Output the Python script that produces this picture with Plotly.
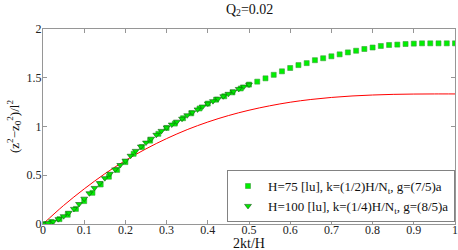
import plotly.graph_objects as go

# H=75 series (squares), x step 0.02
x_sq = [round(i * 0.02, 4) for i in range(51)]
y_sq = [0, 0.02, 0.05, 0.095, 0.155, 0.235, 0.32, 0.405, 0.485, 0.555,
        0.635, 0.72, 0.79, 0.855, 0.925, 0.985, 1.03, 1.085, 1.135, 1.185,
        1.235, 1.275, 1.31, 1.35, 1.39, 1.43, 1.46, 1.494, 1.53, 1.566,
        1.60, 1.63, 1.65, 1.68, 1.70, 1.72, 1.74, 1.76, 1.777, 1.795,
        1.81, 1.826, 1.836, 1.84, 1.846, 1.85, 1.853, 1.853, 1.853, 1.853, 1.853]

# H=100 series (triangles), x step 0.0125
x_tri = [round(i * 0.0125, 4) for i in range(41)]
y_tri = [0, 0.01, 0.025, 0.05, 0.08, 0.115, 0.155, 0.205, 0.26, 0.315,
         0.37, 0.42, 0.47, 0.515, 0.56, 0.605, 0.65, 0.70, 0.75, 0.795,
         0.835, 0.875, 0.915, 0.955, 0.99, 1.02, 1.05, 1.08, 1.115, 1.145,
         1.175, 1.205, 1.235, 1.26, 1.285, 1.31, 1.335, 1.36, 1.385, 1.41, 1.43]

# theory curve (red)
x_th = [0, 0.05, 0.1, 0.15, 0.2, 0.25, 0.3, 0.35, 0.4, 0.45, 0.5,
        0.55, 0.6, 0.65, 0.7, 0.75, 0.8, 0.85, 0.9, 0.95, 1.0]
y_th = [0, 0.19, 0.36, 0.515, 0.651, 0.771, 0.876, 0.968, 1.046, 1.112, 1.167,
        1.212, 1.249, 1.277, 1.298, 1.313, 1.323, 1.3295, 1.3327, 1.334, 1.334]

x_ticks = [0, 0.1, 0.2, 0.3, 0.4, 0.5, 0.6, 0.7, 0.8, 0.9, 1]
x_tick_text = ["0", "0.1", "0.2", "0.3", "0.4", "0.5", "0.6", "0.7", "0.8", "0.9", "1"]
y_ticks = [0, 0.5, 1, 1.5, 2]
y_tick_text = ["0", "0.5", "1", "1.5", "2"]

FONT = "Liberation Serif"

fig = go.Figure()
fig.add_trace(go.Scatter(x=x_th, y=y_th, mode="lines", line=dict(color="rgb(255,0,0)", width=1, shape="spline"),
                         showlegend=False, hoverinfo="skip"))
fig.add_trace(go.Scatter(x=x_sq, y=y_sq, mode="markers",
                         marker=dict(symbol="square", size=5, color="rgb(0,240,0)",
                                     line=dict(color="rgb(60,160,60)", width=0.6)),
                         name="H=75 [lu], k=(1/2)H/N<sub>t</sub>, g=(7/5)a"))
fig.add_trace(go.Scatter(x=x_tri, y=y_tri, mode="markers",
                         marker=dict(symbol="triangle-down", size=6, color="rgb(0,230,0)",
                                     line=dict(color="rgb(20,90,20)", width=0.6)),
                         name="H=100 [lu], k=(1/4)H/N<sub>t</sub>, g=(8/5)a"))

axis_common = dict(showgrid=False, zeroline=False, showline=True, linecolor="rgb(150,150,150)",
                   linewidth=1, mirror="ticks", ticks="inside", ticklen=4,
                   tickcolor="rgb(150,150,150)", tickfont=dict(family=FONT, size=12, color="#222"))

fig.update_layout(
    width=458, height=250,
    margin=dict(l=43, r=3, t=29, b=26, autoexpand=False),
    paper_bgcolor="white", plot_bgcolor="white",
    title=dict(text="Q<sub>2</sub>=0.02", x=0.545, xanchor="center", y=0.985, yanchor="top",
               font=dict(family=FONT, size=14, color="#111")),
    xaxis=dict(range=[0, 1], tickvals=x_ticks, ticktext=x_tick_text, automargin=False,
               ticklabelstandoff=-5, **axis_common),
    yaxis=dict(range=[0, 2], tickvals=y_ticks, ticktext=y_tick_text, automargin=False,
               ticklabelstandoff=-2,
               title=dict(text="(z<sup>2</sup>\u2212z<sub>0</sub><sup>2</sup>)/l<sup>2</sup>",
                          font=dict(family=FONT, size=13, color="#111"), standoff=4),
               **axis_common),
    legend=dict(x=1, xanchor="right", y=0.01, yanchor="bottom", bgcolor="white",
                bordercolor="rgb(130,130,130)", borderwidth=1,
                font=dict(family=FONT, size=13, color="#111"),
                itemwidth=30, tracegroupgap=0),
    annotations=[dict(text="2kt/H", xref="paper", yref="paper", x=0.5, y=-0.1,
                      xanchor="center", yanchor="middle", showarrow=False,
                      font=dict(family=FONT, size=14, color="#111"))],
)

fig.write_html("out.html", config={"displayModeBar": False},
               post_script="document.body.style.margin='0';")
